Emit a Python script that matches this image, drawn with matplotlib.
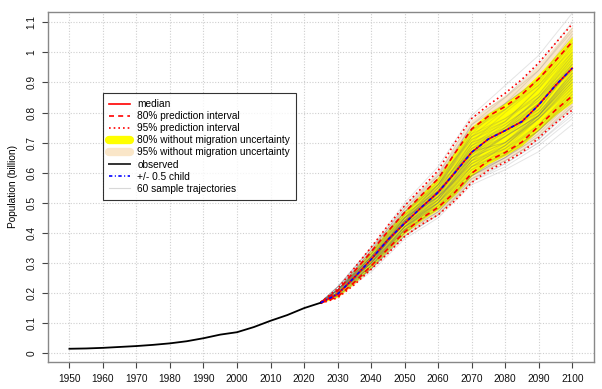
import matplotlib
matplotlib.use("Agg")
import matplotlib.pyplot as plt
from matplotlib.lines import Line2D

plt.rcParams['font.family'] = ['Liberation Sans', 'DejaVu Sans']

# observed population (billion)
obs_years = [1950, 1955, 1960, 1965, 1970, 1975, 1980, 1985, 1990, 1995, 2000, 2005, 2010, 2015, 2020, 2025]
obs_pop = [0.015, 0.016, 0.018, 0.021, 0.024, 0.028, 0.033, 0.040, 0.050, 0.062, 0.070, 0.087, 0.108, 0.127, 0.150, 0.168]

# projection quantiles
proj_years = [2025, 2030, 2035, 2040, 2045, 2050, 2055, 2060, 2065, 2070, 2075, 2080, 2085, 2090, 2095, 2100]
median = [0.168, 0.196, 0.252, 0.312, 0.377, 0.432, 0.485, 0.535, 0.600, 0.668, 0.712, 0.740, 0.770, 0.825, 0.890, 0.947]
upper80 = [0.169, 0.207, 0.272, 0.337, 0.405, 0.468, 0.525, 0.580, 0.665, 0.745, 0.788, 0.820, 0.860, 0.912, 0.972, 1.035]
lower80 = [0.167, 0.188, 0.236, 0.290, 0.347, 0.403, 0.448, 0.485, 0.535, 0.598, 0.640, 0.667, 0.702, 0.755, 0.808, 0.855]
upper95 = [0.170, 0.214, 0.283, 0.352, 0.424, 0.490, 0.548, 0.607, 0.700, 0.780, 0.825, 0.864, 0.910, 0.965, 1.030, 1.094]
lower95 = [0.166, 0.184, 0.228, 0.279, 0.332, 0.388, 0.428, 0.460, 0.507, 0.567, 0.608, 0.635, 0.667, 0.716, 0.765, 0.808]
# without migration uncertainty
nomig80_hi = [0.169, 0.209, 0.275, 0.341, 0.410, 0.473, 0.530, 0.586, 0.672, 0.753, 0.798, 0.832, 0.874, 0.927, 0.990, 1.052]
nomig80_lo = [0.167, 0.187, 0.233, 0.286, 0.342, 0.398, 0.442, 0.478, 0.527, 0.589, 0.630, 0.657, 0.690, 0.742, 0.792, 0.833]
nomig95_hi = [0.170, 0.213, 0.282, 0.350, 0.421, 0.487, 0.545, 0.603, 0.696, 0.775, 0.820, 0.859, 0.905, 0.960, 1.024, 1.087]
nomig95_lo = [0.166, 0.185, 0.229, 0.281, 0.334, 0.390, 0.431, 0.464, 0.511, 0.572, 0.613, 0.640, 0.673, 0.722, 0.772, 0.815]
# +/- 0.5 child (lies on the median here)
half_child = [0.168, 0.196, 0.252, 0.312, 0.377, 0.432, 0.485, 0.535, 0.600, 0.668, 0.712, 0.740, 0.770, 0.825, 0.890, 0.947]

# 60 sample trajectories
traj_years = [2025, 2030, 2040, 2050, 2060, 2070, 2080, 2090, 2100]
trajectories = [
    [.17, .22, .35, .50, .62, .79, .89, .99, 1.13],
    [.17, .21, .34, .49, .59, .78, .85, .96, 1.10],
    [.17, .22, .35, .48, .59, .74, .83, .94, 1.08],
    [.17, .20, .32, .47, .58, .76, .85, .94, 1.07],
    [.17, .21, .34, .49, .60, .75, .81, .91, 1.06],
    [.17, .22, .33, .46, .57, .76, .83, .91, 1.05],
    [.17, .21, .30, .45, .56, .74, .81, .90, 1.04],
    [.17, .22, .35, .47, .56, .72, .81, .89, 1.03],
    [.17, .20, .30, .44, .55, .73, .83, .91, 1.03],
    [.17, .21, .33, .48, .58, .71, .77, .88, 1.02],
    [.17, .21, .31, .43, .54, .70, .80, .89, 1.01],
    [.17, .22, .34, .47, .57, .72, .77, .86, 1.00],
    [.17, .20, .29, .42, .53, .69, .77, .88, 1.00],
    [.17, .21, .32, .46, .54, .67, .75, .85, .99],
    [.17, .21, .32, .44, .56, .73, .78, .86, .99],
    [.17, .20, .31, .45, .56, .71, .76, .84, .98],
    [.17, .21, .34, .45, .52, .65, .74, .85, .98],
    [.17, .20, .30, .44, .55, .72, .78, .85, .97],
    [.17, .21, .33, .47, .55, .68, .74, .83, .97],
    [.17, .21, .30, .41, .52, .68, .76, .84, .96],
    [.17, .21, .32, .45, .53, .66, .74, .83, .96],
    [.17, .20, .31, .45, .56, .70, .75, .81, .96],
    [.17, .21, .31, .43, .51, .66, .75, .85, .95],
    [.17, .20, .29, .42, .52, .69, .74, .81, .95],
    [.17, .22, .33, .45, .53, .65, .72, .81, .95],
    [.17, .20, .32, .46, .54, .67, .72, .79, .94],
    [.17, .21, .31, .42, .50, .64, .73, .83, .94],
    [.17, .20, .30, .44, .55, .69, .75, .83, .94],
    [.17, .21, .32, .44, .52, .63, .70, .80, .93],
    [.17, .20, .31, .43, .53, .68, .73, .80, .93],
    [.17, .21, .33, .47, .56, .67, .70, .79, .93],
    [.17, .20, .29, .41, .50, .65, .72, .79, .92],
    [.17, .21, .31, .43, .54, .70, .74, .80, .92],
    [.17, .21, .32, .43, .50, .62, .69, .79, .92],
    [.17, .20, .31, .45, .54, .65, .70, .79, .91],
    [.17, .21, .32, .44, .51, .64, .72, .79, .91],
    [.17, .19, .29, .42, .51, .66, .72, .79, .91],
    [.17, .21, .30, .42, .49, .62, .69, .78, .90],
    [.17, .20, .30, .44, .54, .67, .70, .78, .90],
    [.17, .21, .32, .45, .52, .64, .69, .79, .90],
    [.17, .20, .28, .40, .50, .63, .69, .78, .89],
    [.17, .21, .31, .43, .51, .65, .70, .78, .89],
    [.17, .20, .30, .41, .48, .61, .68, .76, .88],
    [.17, .21, .32, .44, .52, .63, .68, .78, .88],
    [.17, .20, .31, .43, .50, .60, .67, .76, .87],
    [.17, .19, .28, .41, .51, .64, .68, .75, .87],
    [.17, .21, .30, .42, .50, .62, .67, .75, .86],
    [.17, .21, .32, .44, .52, .62, .66, .74, .86],
    [.17, .20, .29, .40, .47, .59, .66, .74, .85],
    [.17, .20, .30, .42, .50, .61, .66, .74, .85],
    [.17, .21, .30, .41, .48, .59, .65, .73, .84],
    [.17, .20, .28, .40, .49, .60, .65, .74, .84],
    [.17, .20, .30, .42, .49, .59, .65, .72, .83],
    [.17, .20, .29, .41, .47, .59, .65, .72, .82],
    [.17, .20, .29, .41, .48, .59, .64, .71, .82],
    [.17, .20, .29, .40, .47, .58, .64, .71, .81],
    [.17, .19, .28, .39, .46, .58, .63, .70, .80],
    [.17, .20, .28, .39, .46, .57, .63, .70, .79],
    [.17, .19, .28, .39, .46, .57, .62, .69, .78],
    [.17, .19, .27, .38, .45, .56, .61, .67, .76],
]

x_ticks = list(range(1950, 2101, 10))
y_ticks = [0, 0.1, 0.2, 0.3, 0.4, 0.5, 0.6, 0.7, 0.8, 0.9, 1.0, 1.1]
y_tick_labels = ['0', '0.1', '0.2', '0.3', '0.4', '0.5', '0.6', '0.7', '0.8', '0.9', '1', '1.1']

dashed = (0, (3, 2.5))
dotted = (0, (1, 1.8))
dashdot = (0, (2, 1.5, 0.6, 1.5))

fig = plt.figure(figsize=(6.02, 3.89), dpi=100)
ax = fig.add_axes([48.3 / 602, 1 - 361.7 / 389, (594 - 48.3) / 602, (361.7 - 12) / 389])

# bands
ax.fill_between(proj_years, nomig95_lo, nomig95_hi, color='#fae6c8', lw=0, zorder=2)
ax.fill_between(proj_years, nomig80_lo, nomig80_hi, color='#ffff00', lw=0, zorder=3)

# trajectories
for tr in trajectories:
    ax.plot(traj_years, tr, color='#6e6e6e', alpha=0.18, lw=0.7, zorder=4)

# quantile lines
ax.plot(obs_years, obs_pop, color='black', lw=1.3, zorder=6)
ax.plot(proj_years, median, color='red', lw=1.2, zorder=5)
ax.plot(proj_years, upper80, color='red', lw=1.2, ls=dashed, zorder=5)
ax.plot(proj_years, lower80, color='red', lw=1.2, ls=dashed, zorder=5)
ax.plot(proj_years, upper95, color='red', lw=1.2, ls=dotted, zorder=5)
ax.plot(proj_years, lower95, color='red', lw=1.2, ls=dotted, zorder=5)
ax.plot(proj_years, half_child, color='blue', lw=1.2, ls=dashdot, zorder=6)

ax.set_xlim(1943.7, 2106.5)
ax.set_ylim(-0.028, 1.134)
ax.set_xticks(x_ticks)
ax.set_yticks(y_ticks)
ax.set_yticklabels(y_tick_labels, rotation=90, va='center')
ax.tick_params(axis='both', labelsize=7.3, length=4.2, width=0.8, color='#444444',
               labelcolor='#111111', pad=4.5)
ax.grid(True, color='#cfcfcf', ls=(0, (1, 1.5)), lw=0.8)
ax.set_axisbelow(True)
for s in ax.spines.values():
    s.set_color('#888888')
    s.set_linewidth(1.0)
ax.set_ylabel('Population (billion)', fontsize=7.3, labelpad=6)

handles = [
    Line2D([], [], color='red', lw=1.2),
    Line2D([], [], color='red', lw=1.2, ls=dashed),
    Line2D([], [], color='red', lw=1.2, ls=dotted),
    Line2D([], [], color='#ffff00', lw=6, solid_capstyle='round'),
    Line2D([], [], color='#fae6c8', lw=6, solid_capstyle='round'),
    Line2D([], [], color='#333333', lw=1.4),
    Line2D([], [], color='blue', lw=1.2, ls=dashdot),
    Line2D([], [], color='#d8d8d8', lw=0.8),
]
labels = ['median', '80% prediction interval', '95% prediction interval',
          '80% without migration uncertainty', '95% without migration uncertainty',
          'observed', '+/- 0.5 child', '60 sample trajectories']
leg = ax.legend(handles, labels, loc='upper left', bbox_to_anchor=(103.3 / 602, 1 - 93.3 / 389),
                bbox_transform=fig.transFigure, fontsize=7.3, frameon=True, fancybox=False,
                handlelength=2.0, handletextpad=0.75, labelspacing=0.2, borderpad=0.6,
                borderaxespad=0)
leg.get_frame().set_edgecolor('black')
leg.get_frame().set_linewidth(0.8)
leg.set_zorder(10)

fig.savefig('out.png', dpi=100)
